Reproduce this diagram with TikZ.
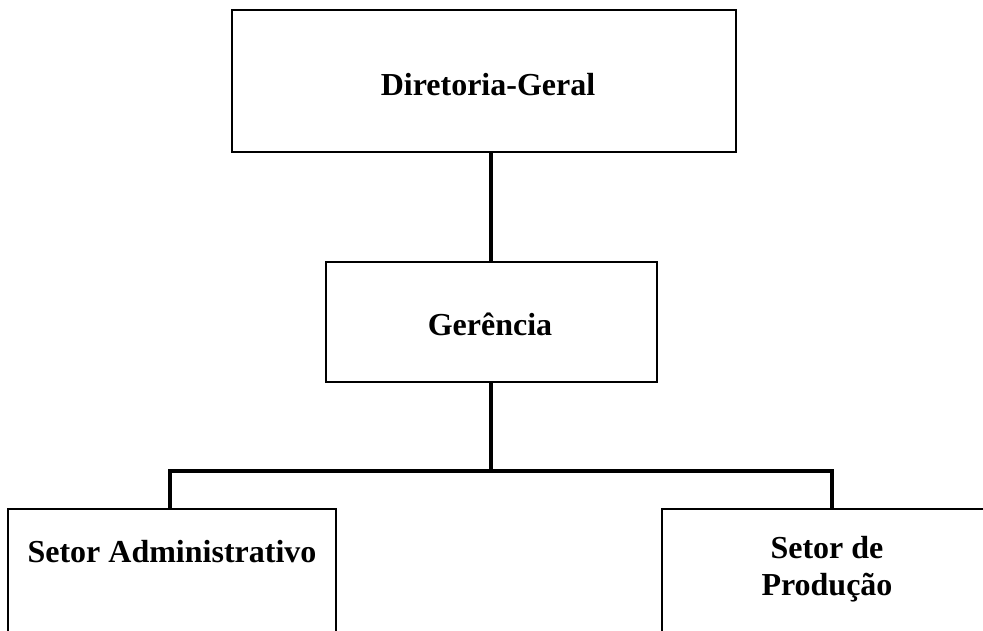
\documentclass[tikz,border=0pt]{standalone}
\usepackage{fontspec}
\setmainfont{Liberation Serif}
\begin{document}
\begin{tikzpicture}[x=1pt,y=-1pt,
  box/.style={draw=black,line width=2pt,rectangle,inner sep=0pt},
  lbl/.style={anchor=base,inner sep=0pt,font=\fontsize{32}{37}\selectfont\bfseries,align=center},
  conn/.style={line width=4.5pt,line cap=rect,line join=miter}]
\clip (0,0) rectangle (983,630);
\fill[white] (0,0) rectangle (983,630);
% boxes
\node[box,minimum width=504pt,minimum height=142pt] (dg) at (484,81) {};
\node[box,minimum width=331pt,minimum height=120pt] (ge) at (491.5,322) {};
\node[box,minimum width=328pt,minimum height=200pt] (sa) at (172,609) {};
\node[box,minimum width=340pt,minimum height=200pt] (sp) at (832,609) {};
% texts
\node[lbl] (tdg) at (488,95) {Diretoria-Geral};
\node[lbl] (tge) at (490,335) {Gerência};
\node[lbl] (tsa) at (172,562) {Setor Administrativo};
\node[lbl] (tsp1) at (827,558) {Setor de};
\node[lbl] (tsp2) at (827,595) {Produção};
% connectors
\coordinate (jn) at (491,471);
\draw[conn,line cap=butt] (dg.south -| jn) -- (ge.north -| jn);
\draw[conn,line cap=butt] (ge.south -| jn) -- (jn);
\draw[conn,line cap=butt] (170,509) |- (jn) -| (832,509);
\end{tikzpicture}
\end{document}
